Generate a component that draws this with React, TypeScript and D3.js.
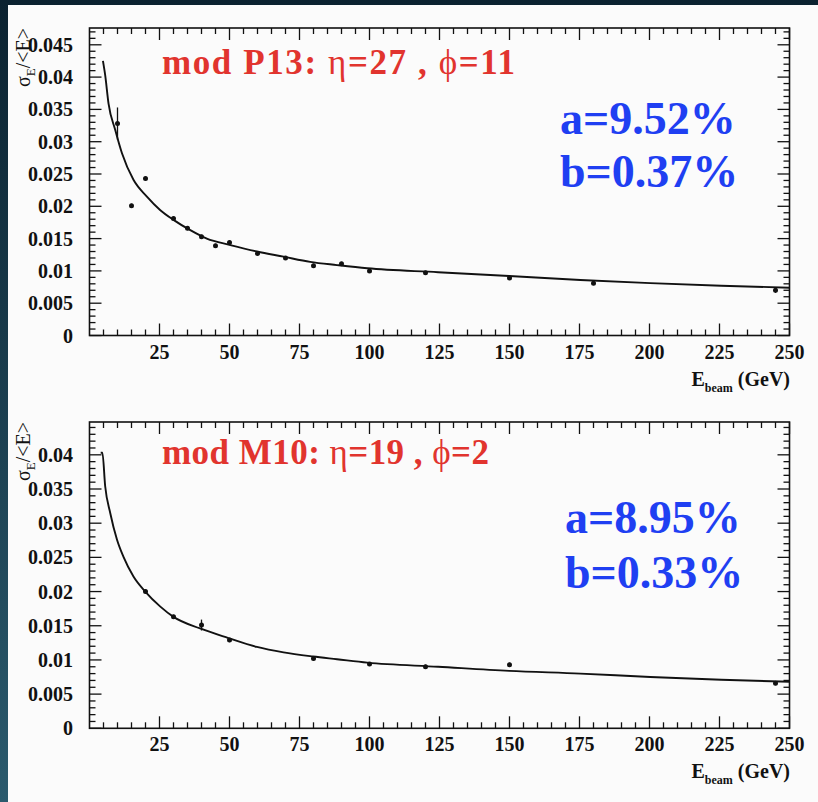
import React from "react";
import * as d3 from "d3";

// ---------- data ----------
const xTickValues = [25, 50, 75, 100, 125, 150, 175, 200, 225, 250];

// panel 1 : mod P13
const titleP13 = ["mod P13: ", "η", "=27 , ", "ϕ", "=11"];
const fitP13 = ["a=9.52%", "b=0.37%"];
const energyP13 = [10, 15, 20, 30, 35, 40, 45, 50, 60, 70, 80, 90, 100, 120, 150, 180, 245];
const resolP13 = [0.0328, 0.0201, 0.0243, 0.0181, 0.0166, 0.0153, 0.0139, 0.0144, 0.0127, 0.012, 0.0108, 0.0111, 0.01, 0.0097, 0.0089, 0.0081, 0.007];
const errP13 = [0.0025, 0.0003, 0.0003, 0.0003, 0.0003, 0.0003, 0.0003, 0.0003, 0.0003, 0.0003, 0.0003, 0.0003, 0.0003, 0.0003, 0.0003, 0.0003, 0.0004];
const curveEP13 = [4.8, 5.6, 6.8, 9.2, 11.6, 15.7, 20.5, 25.3, 30, 36, 41.9, 50.3, 59.8, 69.3, 78.8, 88.4, 99.2, 124.5, 149.9, 175.3, 200.3, 225.6, 250];
const curveVP13 = [0.0425, 0.0403, 0.0359, 0.0318, 0.0282, 0.0241, 0.0215, 0.0194, 0.0179, 0.0163, 0.015, 0.014, 0.013, 0.0122, 0.0114, 0.0109, 0.0104, 0.0098, 0.0092, 0.0086, 0.0081, 0.0077, 0.0074];
const yTicksP13 = [0, 0.005, 0.01, 0.015, 0.02, 0.025, 0.03, 0.035, 0.04, 0.045];

// panel 2 : mod M10
const titleM10 = ["mod M10: ", "η", "=19 , ", "ϕ", "=2"];
const fitM10 = ["a=8.95%", "b=0.33%"];
const energyM10 = [20, 30, 40, 50, 80, 100, 120, 150, 245];
const resolM10 = [0.02, 0.0163, 0.0151, 0.0129, 0.0102, 0.0094, 0.009, 0.0093, 0.0066];
const errM10 = [0.0003, 0.0003, 0.0008, 0.0003, 0.0003, 0.0003, 0.0003, 0.0003, 0.0003];
const curveEM10 = [4.0, 4.6, 5.6, 7.4, 9.8, 12.1, 15.7, 19.9, 25.3, 30, 39.5, 49.6, 59.8, 69.3, 79.8, 88.4, 99.2, 124.5, 149.9, 175.3, 200.3, 225.6, 250];
const curveVM10 = [0.0403, 0.0403, 0.0354, 0.0315, 0.0276, 0.0251, 0.0222, 0.02, 0.0178, 0.0163, 0.0146, 0.0132, 0.0119, 0.0111, 0.0105, 0.0101, 0.0096, 0.009, 0.0084, 0.008, 0.0075, 0.0071, 0.0068];
const yTicksM10 = [0, 0.005, 0.01, 0.015, 0.02, 0.025, 0.03, 0.035, 0.04];

const W = 818;
const H = 802;
const RED = "#e1342e";
const BLUE = "#1f3ff2";
const SERIF = "'Liberation Serif', 'DejaVu Serif', serif";

type PanelProps = {
  top: number;
  bottom: number;
  yMax: number;
  yTicks: number[];
  energy: number[];
  resol: number[];
  err: number[];
  curveE: number[];
  curveV: number[];
  title: string[];
  titleY: number;
  titleLen: number;
  fit: string[];
  fitX: number;
  fitY: number[];
};

function Panel(p: PanelProps) {
  const left = 89.5;
  const right = 789.5;
  const x = d3.scaleLinear().domain([0, 250]).range([left, right]);
  const y = d3.scaleLinear().domain([0, p.yMax]).range([p.bottom, p.top]);

  const xMinor = d3.range(0, 251, 5).filter((v) => v % 25 !== 0);
  const yMinorAll = d3.range(0, Math.floor(p.yMax * 1000) + 1).map((i) => i / 1000);
  const yMinor = yMinorAll.filter((v) => Math.round(v * 1000) % 5 !== 0);

  const line = d3
    .line<number>()
    .x((_, i) => x(p.curveE[i]))
    .y((v) => y(v))
    .curve(d3.curveMonotoneX);

  const majorLen = 12;
  const minorLen = 6;

  return (
    <g>
      <rect x={left} y={p.top} width={right - left} height={p.bottom - p.top} fill="none" stroke="#111" strokeWidth={1.6} />
      {xTickValues.map((v) => (
        <g key={"xm" + v}>
          <line x1={x(v)} x2={x(v)} y1={p.bottom} y2={p.bottom - majorLen} stroke="#111" strokeWidth={1.3} />
          <line x1={x(v)} x2={x(v)} y1={p.top} y2={p.top + majorLen} stroke="#111" strokeWidth={1.3} />
        </g>
      ))}
      {xMinor.map((v) => (
        <g key={"xn" + v}>
          <line x1={x(v)} x2={x(v)} y1={p.bottom} y2={p.bottom - minorLen} stroke="#111" strokeWidth={1.3} />
          <line x1={x(v)} x2={x(v)} y1={p.top} y2={p.top + minorLen} stroke="#111" strokeWidth={1.3} />
        </g>
      ))}
      {p.yTicks.map((v) => (
        <g key={"ym" + v}>
          <line x1={left} x2={left + majorLen} y1={y(v)} y2={y(v)} stroke="#111" strokeWidth={1.3} />
          <line x1={right} x2={right - majorLen} y1={y(v)} y2={y(v)} stroke="#111" strokeWidth={1.3} />
        </g>
      ))}
      {yMinor.map((v) => (
        <g key={"yn" + v}>
          <line x1={left} x2={left + minorLen} y1={y(v)} y2={y(v)} stroke="#111" strokeWidth={1.3} />
          <line x1={right} x2={right - minorLen} y1={y(v)} y2={y(v)} stroke="#111" strokeWidth={1.3} />
        </g>
      ))}
      {xTickValues.map((v) => (
        <text key={"xl" + v} x={x(v)} y={p.bottom + 23} textAnchor="middle" fontFamily={SERIF} fontWeight="bold" fontSize={20} fill="#111">
          {v}
        </text>
      ))}
      {p.yTicks.map((v) => (
        <text key={"yl" + v} x={73} y={y(v) + 7} textAnchor="end" fontFamily={SERIF} fontWeight="bold" fontSize={20} fill="#111">
          {String(+v.toFixed(3))}
        </text>
      ))}
      <text x={790} y={p.bottom + 50} textAnchor="end" fontFamily={SERIF} fontWeight="bold" fontSize={20} fill="#111">
        E<tspan fontSize={12} dy={6}>beam</tspan>
        <tspan dy={-6}> (GeV)</tspan>
      </text>
      <text transform={`translate(30,${p.top}) rotate(-90)`} textAnchor="end" fontFamily={SERIF} fontSize={20} fill="#111">
        σ<tspan fontSize={13} dy={5}>E</tspan>
        <tspan dy={-5}>/&lt;E&gt;</tspan>
      </text>
      <path d={line(p.curveV) || ""} fill="none" stroke="#111" strokeWidth={1.9} />
      {p.energy.map((e, i) => (
        <g key={"pt" + i}>
          <line x1={x(e)} x2={x(e)} y1={y(p.resol[i] - p.err[i])} y2={y(p.resol[i] + p.err[i])} stroke="#111" strokeWidth={1.3} />
          <circle cx={x(e)} cy={y(p.resol[i])} r={2.5} fill="#111" />
        </g>
      ))}
      <text x={162} y={p.titleY} fontFamily={SERIF} fontSize={35} fill={RED} textLength={p.titleLen} lengthAdjust="spacing">
        {p.title.map((s, i) => (
          <tspan key={i} fontWeight={i % 2 === 1 ? "normal" : "bold"}>
            {s}
          </tspan>
        ))}
      </text>
      {p.fit.map((t, i) => (
        <text key={"fit" + i} x={p.fitX} y={p.fitY[i]} fontFamily={SERIF} fontWeight="bold" fontSize={46} fill={BLUE}>
          {t}
        </text>
      ))}
    </g>
  );
}

export default function App() {
  return (
    <svg width={W} height={H} style={{ position: "absolute", left: 0, top: 0 }} xmlns="http://www.w3.org/2000/svg">
      <defs>
        <linearGradient id="edge" x1="0" y1="0" x2="0" y2="1">
          <stop offset="0" stopColor="#0b2230" />
          <stop offset="1" stopColor="#2b5a6d" />
        </linearGradient>
      </defs>
      <rect x={0} y={0} width={W} height={H} fill="url(#edge)" />
      <rect x={8} y={5} width={W - 8} height={H - 5} fill="#fbfbfb" />
      <Panel
        top={28}
        bottom={335.5}
        yMax={0.0476}
        yTicks={yTicksP13}
        energy={energyP13}
        resol={resolP13}
        err={errP13}
        curveE={curveEP13}
        curveV={curveVP13}
        title={titleP13}
        titleY={74}
        titleLen={353}
        fit={fitP13}
        fitX={560}
        fitY={[134, 187]}
      />
      <Panel
        top={422}
        bottom={728.3}
        yMax={0.0448}
        yTicks={yTicksM10}
        energy={energyM10}
        resol={resolM10}
        err={errM10}
        curveE={curveEM10}
        curveV={curveVM10}
        title={titleM10}
        titleY={464}
        titleLen={327}
        fit={fitM10}
        fitX={565}
        fitY={[533, 588]}
      />
    </svg>
  );
}
